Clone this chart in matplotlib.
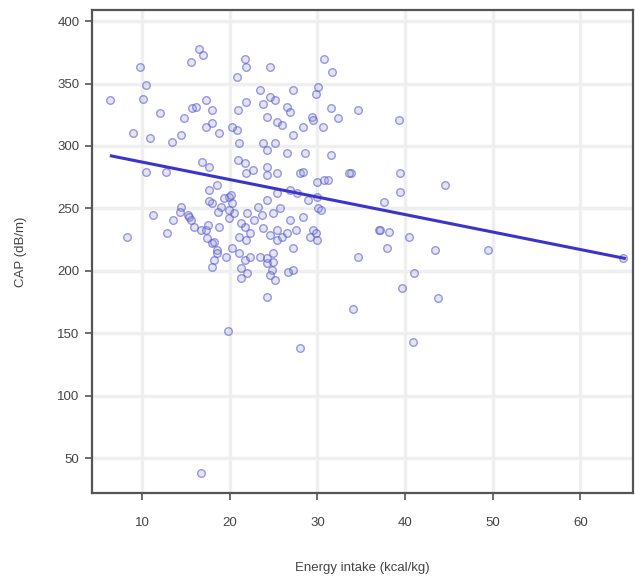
import numpy as np
import matplotlib
matplotlib.use("Agg")
import matplotlib.pyplot as plt

plt.rcParams['font.family'] = ['Liberation Sans', 'DejaVu Sans']

# energy intake (kcal/kg) vs CAP (dB/m)
energy = [
    6.3, 8.3, 9.0, 9.8, 10.4, 10.1, 12.1, 10.9, 10.5, 11.2, 12.7, 13.4, 12.9, 13.5, 14.4,
    14.8, 14.4, 15.7, 15.6, 16.5, 16.9, 15.6, 15.9, 15.2, 16.1, 17.3, 18.0, 16.7, 17.3, 17.4,
    18.5, 18.2, 16.8, 17.6, 17.6, 18.6, 18.0, 19.0, 19.9, 20.3, 17.6, 19.9, 20.5, 19.9, 18.8,
    20.8, 20.3, 21.1, 20.9, 21.7, 21.9, 22.6, 20.9, 21.9, 20.8, 21.9, 23.4, 24.6, 23.8, 25.2,
    24.2, 25.4, 26.0, 24.6, 21.7, 27.2, 26.5, 26.9, 27.2, 25.2, 23.8, 24.2, 26.5, 24.2, 25.4,
    28.6, 28.0, 28.3, 29.4, 29.8, 30.1, 30.0, 26.9, 27.7, 28.9, 25.4, 24.2, 23.2, 24.9, 25.7,
    22.0, 22.8, 21.7, 22.3, 21.9, 21.1, 23.8, 24.6, 25.4, 25.4, 26.0, 26.9, 27.5, 26.5, 28.4,
    29.5, 29.2, 21.1, 21.7, 22.3, 23.4, 24.2, 24.9, 22.0, 21.3, 24.8, 25.2, 27.2, 18.0, 18.5,
    18.0, 20.3, 19.6, 15.4, 14.3, 17.3, 18.0, 18.8, 17.5, 18.2, 19.4, 20.2, 18.7, 21.3, 23.7,
    21.3, 24.2,
    16.7, 19.8, 28.0, 34.1, 40.9, 43.8, 24.2,
    43.4, 49.4, 64.8, 41.0, 39.6, 34.6, 37.9, 37.0, 38.2, 40.4, 44.5, 39.4, 39.4, 39.3, 37.6,
    34.6, 31.5, 32.4, 29.5, 30.6, 31.5, 33.8, 30.7, 30.0, 29.8, 30.1, 30.7, 31.7, 24.2, 28.3,
    31.2, 33.6, 30.4, 30.0, 27.2, 24.9, 24.6, 26.7, 37.1,
]
cap = [
    337, 227, 310, 363, 349, 338, 326, 306, 279, 245, 279, 303, 230, 241, 309,
    322, 251, 330, 367, 378, 373, 241, 235, 245, 331, 337, 329, 233, 233, 226,
    217, 209, 287, 283, 265, 269, 254, 251, 259, 254, 256, 242, 246, 249, 235,
    313, 315, 302, 289, 286, 278, 281, 329, 335, 355, 363, 345, 339, 334, 337,
    323, 319, 317, 363, 370, 345, 331, 327, 309, 302, 302, 297, 294, 283, 278,
    294, 278, 315, 323, 342, 347, 271, 265, 262, 257, 262, 257, 251, 246, 250,
    246, 241, 235, 230, 225, 227, 234, 229, 233, 225, 227, 241, 233, 230, 243,
    233, 227, 214, 209, 211, 211, 206, 214, 198, 194, 201, 193, 201, 222, 214,
    203, 218, 211, 243, 247, 315, 318, 310, 237, 223, 258, 261, 247, 238, 245,
    202, 210,
    38, 152, 138, 169, 143, 178, 179,
    217, 217, 210, 198, 186, 211, 218, 233, 231, 227, 269, 278, 263, 321, 255,
    329, 330, 322, 321, 315, 293, 278, 273, 259, 230, 250, 370, 359, 277, 279,
    273, 278, 249, 225, 218, 207, 197, 199, 233,
]

# regression line end points
fit_x = [6.5, 65.0]
fit_y = [292, 210]

x_ticks = [10, 20, 30, 40, 50, 60]
y_ticks = [50, 100, 150, 200, 250, 300, 350, 400]

fig = plt.figure(figsize=(6.35, 5.81), dpi=100)
ax = fig.add_axes([0.145, 0.1515, 0.852, 0.8315])

ax.scatter(energy, cap, s=30, facecolors=(0.6, 0.6, 0.75, 0.25),
           edgecolors=(0.35, 0.35, 0.85, 0.6), linewidths=1.0, zorder=3)
ax.plot(fit_x, fit_y, color='#3a33cc', lw=2.2, zorder=4)

ax.set_xlim(4.3, 66.0)
ax.set_ylim(22, 409)
ax.set_xticks(x_ticks)
ax.set_yticks(y_ticks)
ax.grid(True, color='#efefef', lw=2.5, zorder=0)

for s in ax.spines.values():
    s.set_color('#555555')
    s.set_linewidth(1.6)
ax.tick_params(direction='out', length=5, width=1.2, color='#555555',
               labelsize=9.5, labelcolor='#444444', pad=4)
ax.tick_params(axis='x', pad=12)

ax.set_xlabel('Energy intake (kcal/kg)', fontsize=9.5, color='#444444', labelpad=24)
ax.set_ylabel('CAP (dB/m)', fontsize=9.5, color='#444444', labelpad=22)

fig.savefig('out.png', dpi=100)
